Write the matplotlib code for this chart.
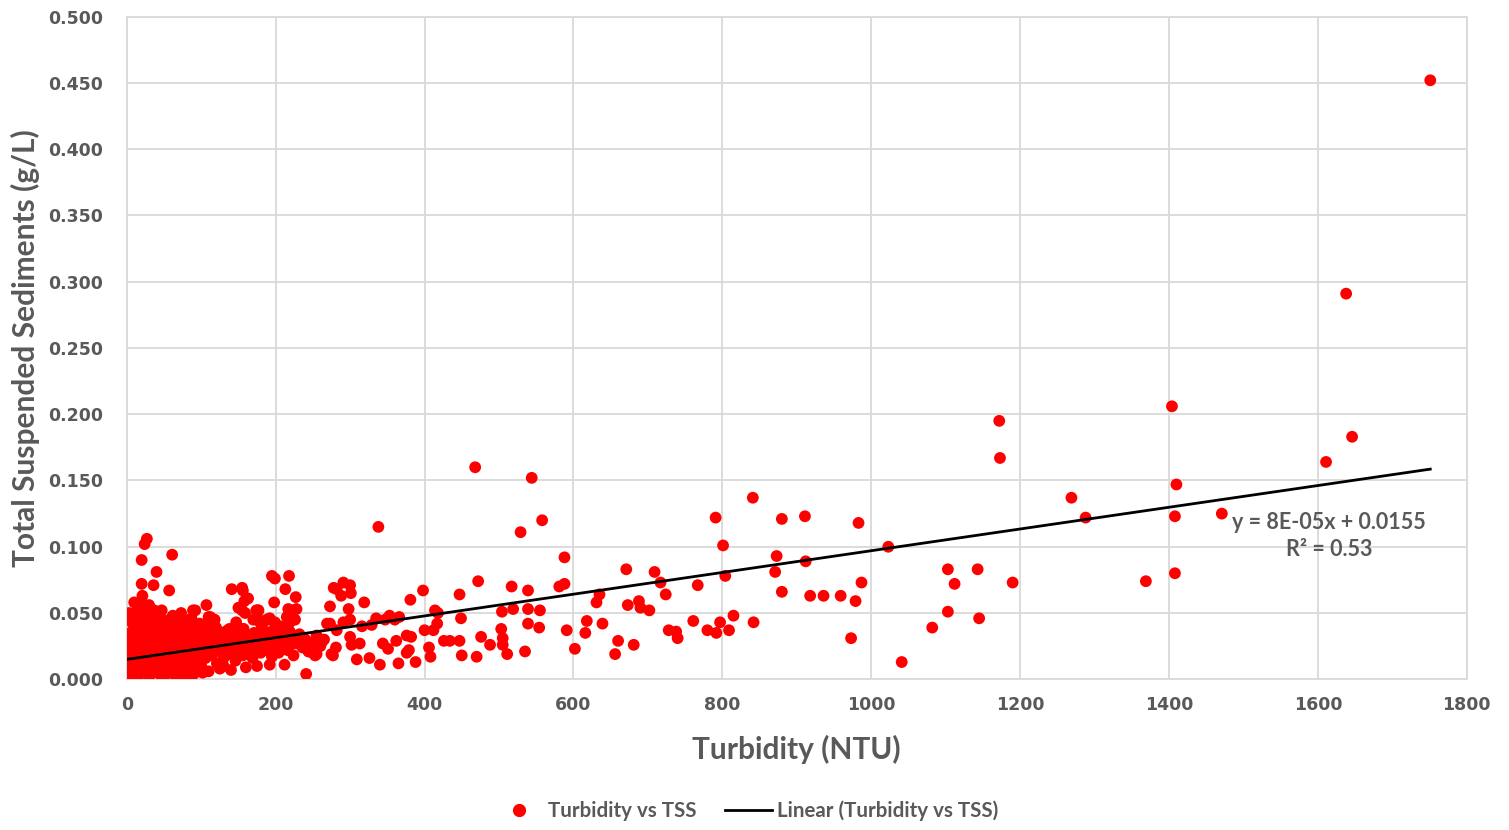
import matplotlib
matplotlib.use("Agg")
import matplotlib.pyplot as plt
from matplotlib.lines import Line2D

# ---- data ----
turb_sparse = [1751, 1638, 1646, 1611, 1404, 1410, 1408, 1408, 1369, 1471, 1269, 1288, 1172, 1173,
               841, 791, 880, 911, 983, 801, 1023, 873, 912, 871, 804, 671, 709, 717, 724, 767,
               880, 918, 936, 959, 979, 987, 1103, 1143, 1112, 1190, 1103, 1145, 1082, 1041, 973,
               639, 673, 688, 690, 702, 660, 656, 681, 761, 728, 738, 740, 780, 792, 797, 809, 815, 842]
tss_sparse = [0.452, 0.291, 0.183, 0.164, 0.206, 0.147, 0.123, 0.080, 0.074, 0.125, 0.137, 0.122, 0.195, 0.167,
              0.137, 0.122, 0.121, 0.123, 0.118, 0.101, 0.100, 0.093, 0.089, 0.081, 0.078, 0.083, 0.081, 0.073, 0.064, 0.071,
              0.066, 0.063, 0.063, 0.063, 0.059, 0.073, 0.083, 0.083, 0.072, 0.073, 0.051, 0.046, 0.039, 0.013, 0.031,
              0.042, 0.056, 0.059, 0.054, 0.052, 0.029, 0.019, 0.026, 0.044, 0.037, 0.036, 0.031, 0.037, 0.035, 0.043, 0.037, 0.048, 0.043]

turb_mid = [468, 544, 338, 558, 529, 588, 472, 581, 588, 517, 539, 447, 398, 381, 319, 291, 282, 300, 288, 301,
            298, 273, 273, 291, 300, 316, 329, 335, 353, 366, 360, 347, 282, 300, 302, 313, 281, 277, 309, 326,
            340, 344, 351, 362, 376, 382, 379, 376, 365, 388, 400, 412, 417, 414, 418, 406, 408, 426, 434, 447,
            449, 450, 470, 476, 488, 503, 505, 505, 511, 504, 519, 539, 539, 555, 554, 535, 591, 602, 616, 618,
            631, 635]
tss_mid = [0.160, 0.152, 0.115, 0.120, 0.111, 0.092, 0.074, 0.070, 0.072, 0.070, 0.067, 0.064, 0.067, 0.060, 0.058, 0.073, 0.068, 0.071, 0.063, 0.065,
           0.053, 0.055, 0.042, 0.043, 0.045, 0.040, 0.041, 0.046, 0.048, 0.047, 0.045, 0.045, 0.037, 0.032, 0.026, 0.027, 0.024, 0.018, 0.015, 0.016,
           0.011, 0.027, 0.023, 0.029, 0.033, 0.032, 0.022, 0.020, 0.012, 0.013, 0.037, 0.037, 0.042, 0.052, 0.050, 0.024, 0.017, 0.029, 0.029, 0.029,
           0.046, 0.018, 0.017, 0.032, 0.026, 0.038, 0.031, 0.026, 0.019, 0.051, 0.053, 0.053, 0.042, 0.052, 0.039, 0.021, 0.037, 0.023, 0.035, 0.044,
           0.058, 0.064]

turb_low = [27, 24, 61, 20, 40, 20, 36, 57, 21, 24, 30,
            107, 141, 156, 163, 195, 199, 218, 213, 227, 198, 176, 223, 228, 217, 215, 219, 226,
            89, 73, 85, 60, 53, 112, 118, 107, 138, 156, 147, 174, 170, 188, 192, 197, 206, 219,
            235, 246, 255, 241, 192, 212, 244, 253, 257, 262, 275, 269, 278,
            155, 158, 155, 150, 159, 92, 110, 117, 120, 136, 150, 157, 177, 175, 179, 181,
            190, 199, 181, 186, 199, 208, 215, 204, 195, 217]
tss_low = [0.106, 0.102, 0.094, 0.090, 0.081, 0.072, 0.071, 0.067, 0.063, 0.056, 0.056,
           0.056, 0.068, 0.067, 0.061, 0.078, 0.076, 0.078, 0.068, 0.062, 0.058, 0.052, 0.052, 0.053, 0.053, 0.047, 0.043, 0.045,
           0.052, 0.050, 0.045, 0.046, 0.041, 0.047, 0.045, 0.040, 0.038, 0.038, 0.043, 0.052, 0.045, 0.045, 0.046, 0.037, 0.040, 0.036,
           0.027, 0.021, 0.019, 0.004, 0.011, 0.011, 0.021, 0.018, 0.031, 0.028, 0.019, 0.042, 0.069,
           0.069, 0.059, 0.052, 0.054, 0.050, 0.052, 0.047, 0.042, 0.039, 0.037, 0.038, 0.038, 0.052, 0.047, 0.043, 0.037,
           0.045, 0.043, 0.041, 0.036, 0.032, 0.037, 0.036, 0.021, 0.023, 0.023]

turb_dense = [1, 2, 3, 3, 4, 5, 5, 6, 7, 8, 8, 9, 10, 11, 12, 12, 13, 14, 15, 16, 16, 17, 18, 19, 20, 21, 22, 23,
              24, 25, 26, 27, 28, 29, 30, 31, 32, 33, 34, 35, 36, 37, 38, 39, 40,
              42, 43, 44, 45, 46, 48, 49, 50, 52, 53, 55, 56, 57, 58, 60, 61, 63, 64, 66, 67, 68, 70, 71, 73, 74,
              76, 77, 79, 80, 82, 83, 85, 86, 88, 89, 91, 92, 94, 96, 97, 99, 101, 102, 104, 106, 108, 110,
              112, 114, 116, 118, 121, 123, 125, 128, 130, 133, 135, 138, 140, 143, 146, 148, 150, 153, 156, 158,
              161, 163, 166, 169, 171, 174, 177, 180, 183, 186, 189, 192, 195, 198, 201, 204, 207, 210, 213, 216,
              220, 224, 228, 232, 236, 240, 245, 250, 255, 260, 265,
              30, 45, 65, 90, 110, 125, 140, 160, 175, 6, 18, 50, 78, 3, 10,
              14, 33, 47, 62, 75, 87, 98, 9, 26, 41, 55, 69, 84, 100, 115, 130, 145]
tss_dense = [0.004, 0.012, 0.020, 0.028, 0.008, 0.016, 0.035, 0.024, 0.003, 0.042, 0.011, 0.030, 0.019, 0.048, 0.006, 0.036,
             0.025, 0.014, 0.053, 0.041, 0.003, 0.030, 0.020, 0.009, 0.046, 0.036, 0.026, 0.015,
             0.005, 0.055, 0.040, 0.031, 0.021, 0.011, 0.048, 0.003, 0.036, 0.027, 0.017, 0.043, 0.008, 0.052, 0.032, 0.022, 0.013,
             0.038, 0.028, 0.004, 0.047, 0.018, 0.033, 0.010, 0.042, 0.024, 0.015, 0.035, 0.005, 0.029, 0.045, 0.020, 0.012, 0.038, 0.026, 0.032, 0.007, 0.016, 0.041, 0.023, 0.030, 0.011,
             0.036, 0.019, 0.026, 0.004, 0.033, 0.014, 0.022, 0.040, 0.029, 0.009, 0.018, 0.034, 0.025, 0.013, 0.031, 0.020, 0.037, 0.005, 0.027, 0.016, 0.033, 0.023,
             0.030, 0.018, 0.038, 0.025, 0.012, 0.033, 0.021, 0.028, 0.016, 0.036, 0.024, 0.019, 0.031, 0.027, 0.014, 0.035, 0.022, 0.030, 0.018, 0.026,
             0.033, 0.021, 0.028, 0.016, 0.035, 0.024, 0.030, 0.020, 0.027, 0.034, 0.022, 0.029, 0.017, 0.033, 0.025, 0.020, 0.031, 0.026, 0.035, 0.022,
             0.030, 0.018, 0.027, 0.034, 0.024, 0.030, 0.021, 0.028, 0.033, 0.025, 0.030,
             0.003, 0.004, 0.003, 0.004, 0.006, 0.008, 0.007, 0.009, 0.010, 0.044, 0.050, 0.002, 0.002, 0.050, 0.058,
             0.049, 0.047, 0.052, 0.048, 0.044, 0.046, 0.042, 0.022, 0.010, 0.007, 0.025, 0.009, 0.006, 0.010, 0.027, 0.010, 0.030]

fit_slope = 8.2e-05
fit_intercept = 0.0150
fit_x_range = [0, 1751]

x_ticks = [0, 200, 400, 600, 800, 1000, 1200, 1400, 1600, 1800]
y_ticks = [0.0, 0.05, 0.10, 0.15, 0.20, 0.25, 0.30, 0.35, 0.40, 0.45, 0.50]

series_label = "Turbidity vs TSS"
fit_label = "Linear (Turbidity vs TSS)"
eq_text = "y = 8E-05x + 0.0155\nR² = 0.53"

# ---- drawing ----
GRAY = "#595959"
GRID = "#D9D9D9"
fig = plt.figure(figsize=(15.09, 8.30), dpi=100)
ax = fig.add_axes([0.0840, 0.1816, 0.8880, 0.7983])

xs = turb_sparse + turb_mid + turb_low + turb_dense
ys = tss_sparse + tss_mid + tss_low + tss_dense
ax.scatter(xs, ys, s=72, color="#FF0000", edgecolors="none", zorder=3, label=series_label)

fx = fit_x_range
fy = [fit_slope * v + fit_intercept for v in fx]
ax.plot(fx, fy, color="black", lw=2.0, zorder=4, label=fit_label)

ax.set_xlim(0, 1800)
ax.set_ylim(0, 0.5)
ax.set_xticks(x_ticks)
ax.set_yticks(y_ticks)
ax.set_xticklabels([str(v) for v in x_ticks])
ax.set_yticklabels([f"{v:.3f}" for v in y_ticks])
ax.grid(True, color=GRID, lw=1.3, zorder=0)
ax.set_axisbelow(True)
for sp in ax.spines.values():
    sp.set_color(GRID)
    sp.set_linewidth(1.3)
ax.tick_params(length=0, labelcolor=GRAY)
ax.tick_params(axis="y", pad=17)
ax.tick_params(axis="x", pad=12)
for lab in ax.get_xticklabels() + ax.get_yticklabels():
    lab.set_fontfamily("DejaVu Sans")
    lab.set_fontweight("bold")
    lab.set_fontsize(12.5)

ax.set_xlabel("Turbidity (NTU)", fontsize=21.5, fontweight="bold", color=GRAY,
              family=["Lato", "DejaVu Sans"], labelpad=15)
ax.set_ylabel("Total Suspended Sediments (g/L)", fontsize=21.5, fontweight="bold", color=GRAY,
              family=["Lato", "DejaVu Sans"], labelpad=6)

ax.text(1615, 0.108, eq_text, ha="center", va="center", fontsize=15.5, fontweight="bold",
        color=GRAY, family=["Lato", "DejaVu Sans"], linespacing=1.38, zorder=5)

handles = [Line2D([], [], marker="o", ls="none", color="#FF0000", markersize=8.5),
           Line2D([], [], color="black", lw=2.0)]
leg = fig.legend(handles, [series_label, fit_label], loc="center", bbox_to_anchor=(0.495, 0.023),
                 ncol=2, frameon=False, handlelength=2.3, handletextpad=0.25, columnspacing=1.4,
                 prop={"family": ["Lato", "DejaVu Sans"], "weight": "bold", "size": 14.8})
for t in leg.get_texts():
    t.set_color(GRAY)

fig.savefig("out.png", dpi=100)
